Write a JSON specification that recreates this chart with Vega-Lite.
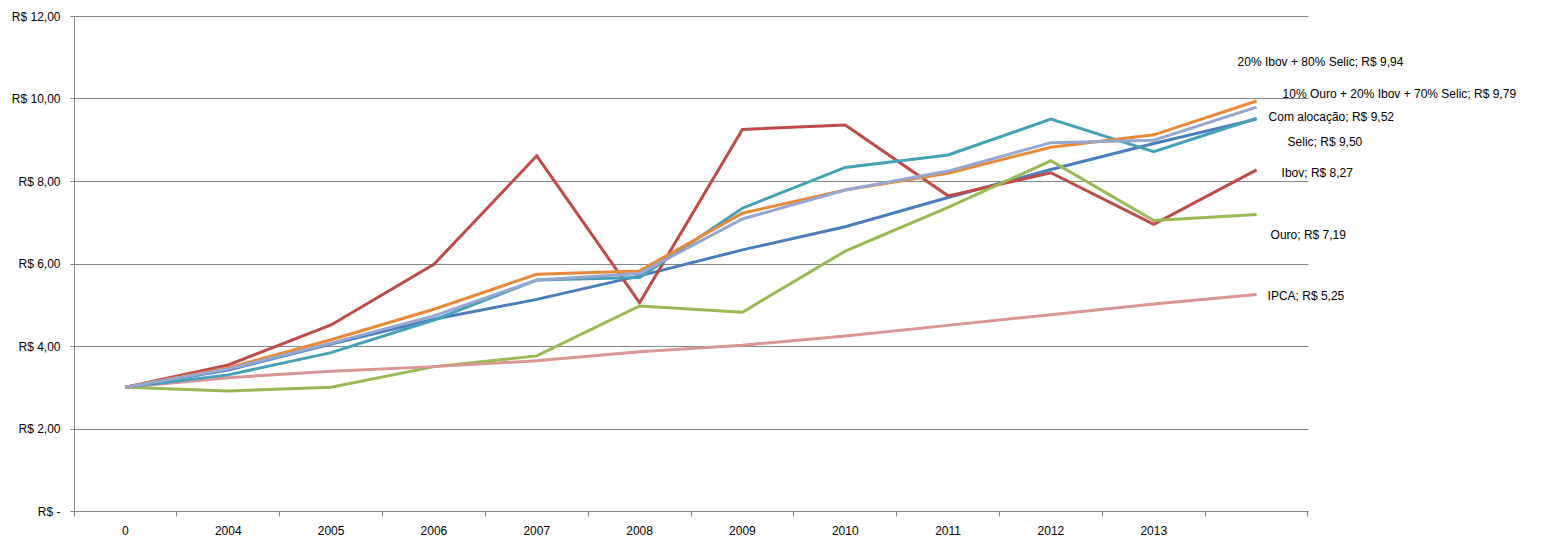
{
  "$schema": "https://vega.github.io/schema/vega-lite/v6.json",
  "width": 1234,
  "height": 495,
  "autosize": {"type": "none"},
  "padding": {"left": 74, "top": 16, "right": 244, "bottom": 39},
  "background": "white",
  "config": {
    "font": "Liberation Sans",
    "view": {"stroke": null},
    "axis": {"labelFontSize": 12, "labelColor": "#000000", "labelFont": "Liberation Sans"}
  },
  "data": {
    "values": [
      {"ano": "0", "serie": "Selic", "valor": 3.00},
      {"ano": "2004", "serie": "Selic", "valor": 3.42},
      {"ano": "2005", "serie": "Selic", "valor": 4.05},
      {"ano": "2006", "serie": "Selic", "valor": 4.65},
      {"ano": "2007", "serie": "Selic", "valor": 5.13},
      {"ano": "2008", "serie": "Selic", "valor": 5.70},
      {"ano": "2009", "serie": "Selic", "valor": 6.33},
      {"ano": "2010", "serie": "Selic", "valor": 6.89},
      {"ano": "2011", "serie": "Selic", "valor": 7.60},
      {"ano": "2012", "serie": "Selic", "valor": 8.28},
      {"ano": "2013", "serie": "Selic", "valor": 8.91},
      {"ano": "fim", "serie": "Selic", "valor": 9.50},
      {"ano": "0", "serie": "Ibov", "valor": 3.00},
      {"ano": "2004", "serie": "Ibov", "valor": 3.54},
      {"ano": "2005", "serie": "Ibov", "valor": 4.51},
      {"ano": "2006", "serie": "Ibov", "valor": 5.98},
      {"ano": "2007", "serie": "Ibov", "valor": 8.61},
      {"ano": "2008", "serie": "Ibov", "valor": 5.05},
      {"ano": "2009", "serie": "Ibov", "valor": 9.25},
      {"ano": "2010", "serie": "Ibov", "valor": 9.36},
      {"ano": "2011", "serie": "Ibov", "valor": 7.64},
      {"ano": "2012", "serie": "Ibov", "valor": 8.20},
      {"ano": "2013", "serie": "Ibov", "valor": 6.95},
      {"ano": "fim", "serie": "Ibov", "valor": 8.27},
      {"ano": "0", "serie": "Ouro", "valor": 3.00},
      {"ano": "2004", "serie": "Ouro", "valor": 2.91},
      {"ano": "2005", "serie": "Ouro", "valor": 3.00},
      {"ano": "2006", "serie": "Ouro", "valor": 3.50},
      {"ano": "2007", "serie": "Ouro", "valor": 3.76},
      {"ano": "2008", "serie": "Ouro", "valor": 4.97},
      {"ano": "2009", "serie": "Ouro", "valor": 4.82},
      {"ano": "2010", "serie": "Ouro", "valor": 6.30},
      {"ano": "2011", "serie": "Ouro", "valor": 7.36},
      {"ano": "2012", "serie": "Ouro", "valor": 8.49},
      {"ano": "2013", "serie": "Ouro", "valor": 7.04},
      {"ano": "fim", "serie": "Ouro", "valor": 7.19},
      {"ano": "0", "serie": "IPCA", "valor": 3.00},
      {"ano": "2004", "serie": "IPCA", "valor": 3.23},
      {"ano": "2005", "serie": "IPCA", "valor": 3.39},
      {"ano": "2006", "serie": "IPCA", "valor": 3.50},
      {"ano": "2007", "serie": "IPCA", "valor": 3.64},
      {"ano": "2008", "serie": "IPCA", "valor": 3.86},
      {"ano": "2009", "serie": "IPCA", "valor": 4.02},
      {"ano": "2010", "serie": "IPCA", "valor": 4.24},
      {"ano": "2011", "serie": "IPCA", "valor": 4.50},
      {"ano": "2012", "serie": "IPCA", "valor": 4.76},
      {"ano": "2013", "serie": "IPCA", "valor": 5.02},
      {"ano": "fim", "serie": "IPCA", "valor": 5.25},
      {"ano": "0", "serie": "Com alocação", "valor": 3.00},
      {"ano": "2004", "serie": "Com alocação", "valor": 3.30},
      {"ano": "2005", "serie": "Com alocação", "valor": 3.84},
      {"ano": "2006", "serie": "Com alocação", "valor": 4.63},
      {"ano": "2007", "serie": "Com alocação", "valor": 5.60},
      {"ano": "2008", "serie": "Com alocação", "valor": 5.66},
      {"ano": "2009", "serie": "Com alocação", "valor": 7.34},
      {"ano": "2010", "serie": "Com alocação", "valor": 8.33},
      {"ano": "2011", "serie": "Com alocação", "valor": 8.63},
      {"ano": "2012", "serie": "Com alocação", "valor": 9.50},
      {"ano": "2013", "serie": "Com alocação", "valor": 8.71},
      {"ano": "fim", "serie": "Com alocação", "valor": 9.52},
      {"ano": "0", "serie": "20% Ibov + 80% Selic", "valor": 3.00},
      {"ano": "2004", "serie": "20% Ibov + 80% Selic", "valor": 3.47},
      {"ano": "2005", "serie": "20% Ibov + 80% Selic", "valor": 4.15},
      {"ano": "2006", "serie": "20% Ibov + 80% Selic", "valor": 4.89},
      {"ano": "2007", "serie": "20% Ibov + 80% Selic", "valor": 5.74},
      {"ano": "2008", "serie": "20% Ibov + 80% Selic", "valor": 5.82},
      {"ano": "2009", "serie": "20% Ibov + 80% Selic", "valor": 7.22},
      {"ano": "2010", "serie": "20% Ibov + 80% Selic", "valor": 7.78},
      {"ano": "2011", "serie": "20% Ibov + 80% Selic", "valor": 8.19},
      {"ano": "2012", "serie": "20% Ibov + 80% Selic", "valor": 8.82},
      {"ano": "2013", "serie": "20% Ibov + 80% Selic", "valor": 9.12},
      {"ano": "fim", "serie": "20% Ibov + 80% Selic", "valor": 9.94},
      {"ano": "0", "serie": "10% Ouro + 20% Ibov + 70% Selic", "valor": 3.00},
      {"ano": "2004", "serie": "10% Ouro + 20% Ibov + 70% Selic", "valor": 3.44},
      {"ano": "2005", "serie": "10% Ouro + 20% Ibov + 70% Selic", "valor": 4.07},
      {"ano": "2006", "serie": "10% Ouro + 20% Ibov + 70% Selic", "valor": 4.73},
      {"ano": "2007", "serie": "10% Ouro + 20% Ibov + 70% Selic", "valor": 5.60},
      {"ano": "2008", "serie": "10% Ouro + 20% Ibov + 70% Selic", "valor": 5.76},
      {"ano": "2009", "serie": "10% Ouro + 20% Ibov + 70% Selic", "valor": 7.08},
      {"ano": "2010", "serie": "10% Ouro + 20% Ibov + 70% Selic", "valor": 7.78},
      {"ano": "2011", "serie": "10% Ouro + 20% Ibov + 70% Selic", "valor": 8.24},
      {"ano": "2012", "serie": "10% Ouro + 20% Ibov + 70% Selic", "valor": 8.93},
      {"ano": "2013", "serie": "10% Ouro + 20% Ibov + 70% Selic", "valor": 8.99},
      {"ano": "fim", "serie": "10% Ouro + 20% Ibov + 70% Selic", "valor": 9.79}
    ]
  },
  "transform": [
    {"calculate": "datum.serie + ';  R$ ' + replace(format(datum.valor, '.2f'), '.', ',')", "as": "rotulo"}
  ],
  "encoding": {
    "x": {
      "field": "ano",
      "type": "ordinal",
      "bandPosition": 0.5,
      "scale": {
        "type": "band",
        "domain": ["0", "2004", "2005", "2006", "2007", "2008", "2009", "2010", "2011", "2012", "2013", "fim"],
        "paddingInner": 0,
        "paddingOuter": 0
      },
      "axis": {
        "title": null,
        "labelAngle": 0,
        "bandPosition": 1,
        "tickExtra": true,
        "labelExpr": "datum.label == 'fim' ? '' : datum.label",
        "domainColor": "#868686",
        "tickColor": "#868686",
        "tickSize": 5,
        "labelPadding": 9,
        "grid": false
      }
    },
    "y": {
      "field": "valor",
      "type": "quantitative",
      "scale": {"domain": [0, 12], "nice": false},
      "axis": {
        "title": null,
        "values": [0, 2, 4, 6, 8, 10, 12],
        "labelExpr": "datum.value == 0 ? 'R$ -\u00a0\u00a0\u00a0\u00a0' : 'R$ ' + replace(format(datum.value, '.2f'), '.', ',')",
        "grid": true,
        "gridColor": "#868686",
        "gridOpacity": 1,
        "domainColor": "#868686",
        "tickColor": "#868686",
        "tickSize": 4,
        "labelPadding": 10
      }
    }
  },
  "layer": [
    {
      "mark": {"type": "line", "strokeWidth": 3, "strokeJoin": "miter"},
      "encoding": {
        "color": {
          "field": "serie",
          "type": "nominal",
          "legend": null,
          "scale": {
            "domain": ["Selic", "Ibov", "Ouro", "IPCA", "Com alocação", "20% Ibov + 80% Selic", "10% Ouro + 20% Ibov + 70% Selic"],
            "range": ["#4A7EBB", "#BE4B48", "#98B954", "#D99694", "#46A1B8", "#E8893A", "#95A7D1"]
          }
        }
      }
    },
    {
      "transform": [{"filter": "datum.ano == 'fim' && datum.serie == '20% Ibov + 80% Selic'"}],
      "mark": {"type": "text", "align": "left", "baseline": "middle", "dx": -19, "dy": -39, "fontSize": 12, "color": "#000000"},
      "encoding": {"text": {"field": "rotulo"}}
    },
    {
      "transform": [{"filter": "datum.ano == 'fim' && datum.serie == '10% Ouro + 20% Ibov + 70% Selic'"}],
      "mark": {"type": "text", "align": "left", "baseline": "middle", "dx": 26, "dy": -13, "fontSize": 12, "color": "#000000"},
      "encoding": {"text": {"field": "rotulo"}}
    },
    {
      "transform": [{"filter": "datum.ano == 'fim' && datum.serie == 'Com alocação'"}],
      "mark": {"type": "text", "align": "left", "baseline": "middle", "dx": 12, "dy": -1, "fontSize": 12, "color": "#000000"},
      "encoding": {"text": {"field": "rotulo"}}
    },
    {
      "transform": [{"filter": "datum.ano == 'fim' && datum.serie == 'Selic'"}],
      "mark": {"type": "text", "align": "left", "baseline": "middle", "dx": 31, "dy": 23, "fontSize": 12, "color": "#000000"},
      "encoding": {"text": {"field": "rotulo"}}
    },
    {
      "transform": [{"filter": "datum.ano == 'fim' && datum.serie == 'Ibov'"}],
      "mark": {"type": "text", "align": "left", "baseline": "middle", "dx": 25, "dy": 3, "fontSize": 12, "color": "#000000"},
      "encoding": {"text": {"field": "rotulo"}}
    },
    {
      "transform": [{"filter": "datum.ano == 'fim' && datum.serie == 'Ouro'"}],
      "mark": {"type": "text", "align": "left", "baseline": "middle", "dx": 14, "dy": 21, "fontSize": 12, "color": "#000000"},
      "encoding": {"text": {"field": "rotulo"}}
    },
    {
      "transform": [{"filter": "datum.ano == 'fim' && datum.serie == 'IPCA'"}],
      "mark": {"type": "text", "align": "left", "baseline": "middle", "dx": 11, "dy": 2, "fontSize": 12, "color": "#000000"},
      "encoding": {"text": {"field": "rotulo"}}
    }
  ]
}
